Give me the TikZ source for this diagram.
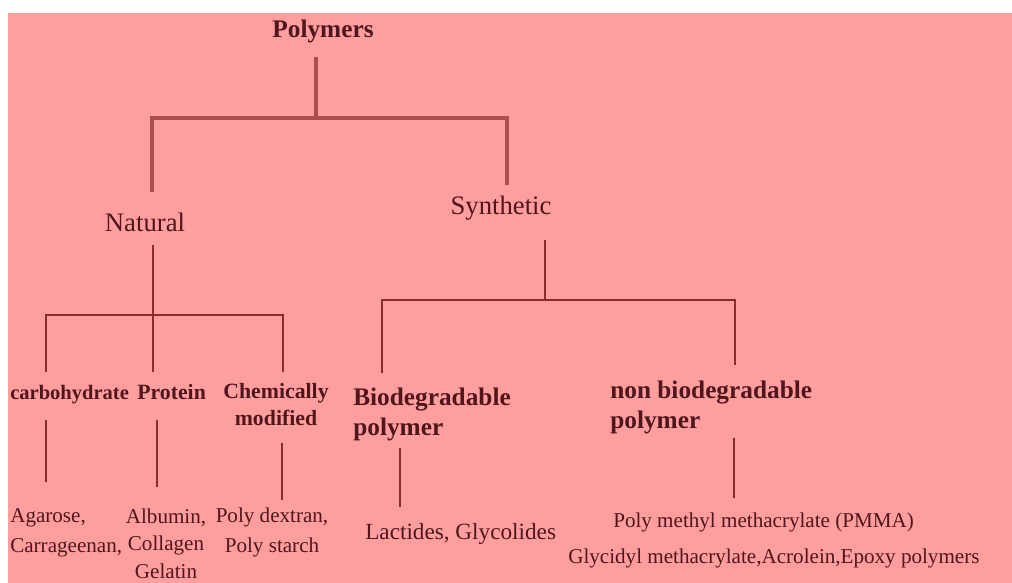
\documentclass[tikz,border=0pt]{standalone}
\usepackage{fontspec}
\setmainfont{Liberation Serif}
\definecolor{paper}{RGB}{255,158,158}
\definecolor{ink}{RGB}{80,22,28}
\definecolor{wire}{RGB}{170,78,80}
\definecolor{wiredark}{RGB}{135,45,48}
\tikzset{
  rootlabel/.style={font=\fontsize{18}{21}\selectfont\bfseries, text=ink, inner sep=0pt},
  kindlabel/.style={font=\fontsize{19}{22}\selectfont, text=ink, inner sep=0pt},
  grouplabel/.style={font=\fontsize{15.5}{19.2}\selectfont\bfseries, text=ink, inner sep=0pt},
  biglabel/.style={font=\fontsize{18}{21.3}\selectfont\bfseries, text=ink, inner sep=0pt, align=left},
  examplelabel/.style={font=\fontsize{15}{21.3}\selectfont, text=ink, inner sep=0pt},
  trunk/.style={draw=wire, line width=2.8pt},
  twig/.style={draw=wiredark, line width=1.6pt}
}

\begin{document}
\begin{tikzpicture}[x=0.025cm, y=-0.025cm]
      \useasboundingbox (0,0) rectangle (1012,583);
      \fill[paper] (8,13) rectangle (1012,583);

      % top level
      \node[rootlabel, anchor=base] (poly) at (323,38) {Polymers};
      \node[kindlabel, anchor=base] (natural) at (145,232) {Natural};
      \node[kindlabel, anchor=base] (synthetic) at (501,215) {Synthetic};

      % natural groups (base = last line)
      \node[grouplabel, anchor=base west, font=\fontsize{14.6}{18}\selectfont\bfseries] (carb) at (10,399) {carbohydrate};
      \node[grouplabel, anchor=base west] (protein) at (137,399) {Protein};
      \node[grouplabel, anchor=base, align=center] (chem) at (276,425) {Chemically\\modified};

      % synthetic groups
      \node[biglabel, anchor=base west] (bio) at (353,435) {Biodegradable\\polymer};
      \node[biglabel, anchor=base west] (nonbio) at (610,428) {non biodegradable\\polymer};

      % examples
      \node[examplelabel, anchor=base west, align=left] (carbex) at (10,552) {Agarose,\\Carrageenan,};
      \node[examplelabel, anchor=base, align=center, font=\fontsize{15}{19.3}\selectfont] (protex) at (166,578) {Albumin,\\Collagen\\Gelatin};
      \node[examplelabel, anchor=base, align=center] (chemex) at (272,552) {Poly dextran,\\Poly starch};
      \node[examplelabel, anchor=base west, font=\fontsize{16.5}{20}\selectfont] (bioex) at (365,539) {Lactides, Glycolides};
      \node[examplelabel, anchor=base west] (pmma) at (613,527) {Poly methyl methacrylate (PMMA)};
      \node[examplelabel, anchor=base west] (glyc) at (568,563) {Glycidyl methacrylate,Acrolein,Epoxy polymers};

      % connector ends
      \coordinate (polyfoot) at (316,57);
      \coordinate (polyknot) at (316,118);
      \coordinate (naturalhead) at (152,192);
      \coordinate (synthetichead) at (507,185);
      \coordinate (naturalfoot) at (153,245);
      \coordinate (naturalknot) at (153,315);
      \coordinate (carbhead) at (46,372);
      \coordinate (proteinhead) at (153,372);
      \coordinate (chemhead) at (283,372);
      \coordinate (syntheticfoot) at (545,240);
      \coordinate (syntheticknot) at (545,300);
      \coordinate (biohead) at (382,373);
      \coordinate (nonbiohead) at (735,365);
      \coordinate (carbfoot) at (46,420);
      \coordinate (carbexhead) at (46,482);
      \coordinate (proteinfoot) at (157,420);
      \coordinate (protexhead) at (157,487);
      \coordinate (chemfoot) at (282,443);
      \coordinate (chemexhead) at (282,500);
      \coordinate (biofoot) at (400,448);
      \coordinate (bioexhead) at (400,507);
      \coordinate (nonbiofoot) at (734,438);
      \coordinate (pmmahead) at (734,498);

      % tree lines
      \draw[trunk] (polyfoot) -- (polyknot);
      \draw[trunk] (naturalhead) |- (polyknot) -| (synthetichead);
      \draw[twig] (naturalfoot) -- (proteinhead);
      \draw[twig] (carbhead) |- (naturalknot) -| (chemhead);
      \draw[twig] (syntheticfoot) -- (syntheticknot);
      \draw[twig] (biohead) |- (syntheticknot) -| (nonbiohead);
      \draw[twig] (carbfoot) -- (carbexhead);
      \draw[twig] (proteinfoot) -- (protexhead);
      \draw[twig] (chemfoot) -- (chemexhead);
      \draw[twig] (biofoot) -- (bioexhead);
      \draw[twig] (nonbiofoot) -- (pmmahead);

      % white margins
      \fill[white] (0,0) rectangle (8,583);
      \fill[white] (0,0) rectangle (1012,13);
    \end{tikzpicture}
\end{document}
